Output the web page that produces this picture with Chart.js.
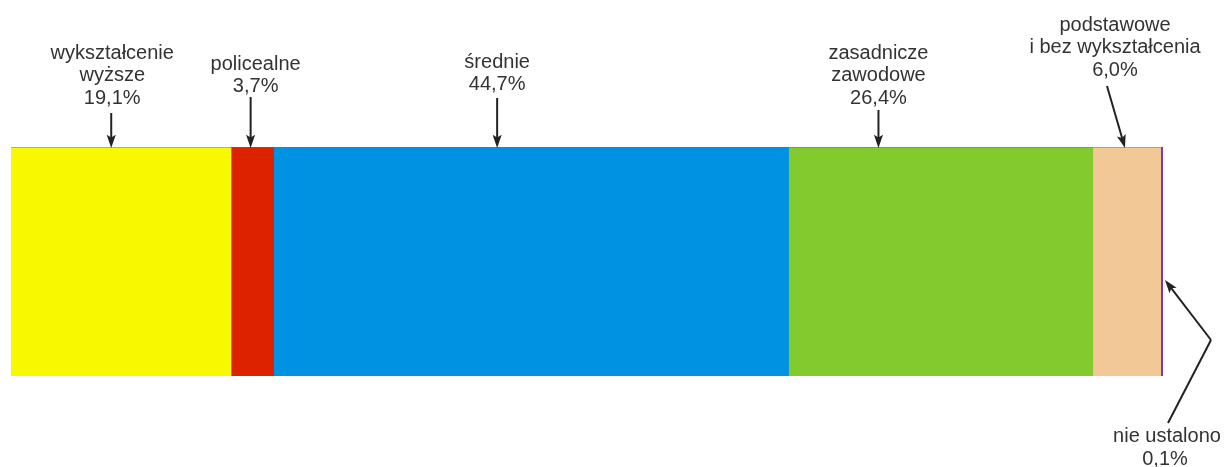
<!DOCTYPE html>
<html>
<head>
<meta charset="utf-8">
<script src="https://cdn.jsdelivr.net/npm/chart.js@4"></script>
<style>
  html, body { margin: 0; padding: 0; background: #fff; }
  #wrap { width: 1225px; height: 467px; }
</style>
</head>
<body>
<div id="wrap"><canvas id="myChart" width="1225" height="467"></canvas></div>
<script>
// data
var categories = ['wykształcenie wyższe', 'policealne', 'średnie', 'zasadnicze zawodowe', 'podstawowe i bez wykształcenia', 'nie ustalono'];
var values = [19.1, 3.7, 44.7, 26.4, 6.0, 0.1];
var colors = ['#f8f800', '#dd2200', '#0092e2', '#82ca2e', '#f2c896', '#7a3aa8'];

// label lines (text only) and where the arrow points along the axis (in %)
var labelLines = [
    ['wykształcenie', 'wyższe', '19,1%'],
    ['policealne', '3,7%'],
    ['średnie', '44,7%'],
    ['zasadnicze', 'zawodowe', '26,4%'],
    ['podstawowe', 'i bez wykształcenia', '6,0%'],
    ['nie ustalono', '0,1%']
];
var arrowAt = [8.7, 20.8, 42.2, 75.3, 96.7, 100];

var datasets = categories.map(function (c, i) {
    return {
        label: c,
        data: [values[i]],
        backgroundColor: colors[i],
        borderWidth: 0
    };
});

function drawArrow(ctx, x1, y1, x2, y2) {
    var a = Math.atan2(y2 - y1, x2 - x1);
    var len = 14, w = 0.33;
    ctx.beginPath();
    ctx.moveTo(x1, y1);
    ctx.lineTo(x2 - Math.cos(a) * 8, y2 - Math.sin(a) * 8);
    ctx.stroke();
    ctx.beginPath();
    ctx.moveTo(x2, y2);
    ctx.lineTo(x2 - len * Math.cos(a - w), y2 - len * Math.sin(a - w));
    ctx.lineTo(x2 - len * 0.75 * Math.cos(a), y2 - len * 0.75 * Math.sin(a));
    ctx.lineTo(x2 - len * Math.cos(a + w), y2 - len * Math.sin(a + w));
    ctx.closePath();
    ctx.fill();
}

var callouts = {
    id: 'callouts',
    afterDatasetsDraw: function (chart) {
        var ctx = chart.ctx;
        var xs = chart.scales.x;
        var area = chart.chartArea;
        var top = area.top, bottom = area.bottom;
        ctx.save();
        // thin line along the top of the bar
        ctx.strokeStyle = 'rgba(120,110,60,0.45)';
        ctx.lineWidth = 1;
        ctx.beginPath();
        ctx.moveTo(xs.getPixelForValue(0), top + 0.5);
        ctx.lineTo(xs.getPixelForValue(100), top + 0.5);
        ctx.stroke();
        // the purple sliver is drawn a bit wider so it shows
        ctx.strokeStyle = colors[5];
        ctx.lineWidth = 2;
        ctx.beginPath();
        ctx.moveTo(xs.getPixelForValue(100) - 1, top);
        ctx.lineTo(xs.getPixelForValue(100) - 1, bottom);
        ctx.stroke();

        ctx.fillStyle = '#333';
        ctx.strokeStyle = '#222';
        ctx.lineWidth = 2;
        ctx.font = '20px "Liberation Sans", Arial, sans-serif';
        ctx.textAlign = 'center';
        ctx.textBaseline = 'middle';
        var lh = 22.5;
        // text positions: first line y, text offset x, arrow start
        var layout = [
            { y: 53, dx: 1, ay: 113 },
            { y: 64, dx: 5, ay: 97 },
            { y: 62, dx: 0, ay: 98 },
            { y: 53, dx: 0, ay: 110 },
            { y: 25, dx: -10, ay: 86, ax: -18 }
        ];
        layout.forEach(function (l, i) {
            var x = xs.getPixelForValue(arrowAt[i]);
            labelLines[i].forEach(function (t, k) {
                ctx.fillText(t, x + l.dx, l.y + k * lh);
            });
            ctx.fillStyle = '#222';
            drawArrow(ctx, x + (l.ax || 0), l.ay, x, top + 1);
            ctx.fillStyle = '#333';
        });
        // last, tiny segment: label below, bent arrow
        var xe = xs.getPixelForValue(arrowAt[5]);
        ctx.fillText(labelLines[5][0], xe + 4, bottom + 60);
        ctx.fillText(labelLines[5][1], xe + 2, bottom + 83);
        ctx.beginPath();
        ctx.moveTo(xe + 5, bottom + 47);
        ctx.lineTo(xe + 48, bottom - 36);
        ctx.stroke();
        ctx.fillStyle = '#222';
        drawArrow(ctx, xe + 48, bottom - 36, xe + 2, top + 133);
        ctx.restore();
    }
};

var chart = new Chart(document.getElementById('myChart'), {
    type: 'bar',
    data: { labels: [''], datasets: datasets },
    options: {
        indexAxis: 'y',
        responsive: false,
        animation: false,
        layout: { padding: { left: 11, right: 62, top: 147, bottom: 91 } },
        datasets: { bar: { barPercentage: 1, categoryPercentage: 1 } },
        scales: {
            x: { stacked: true, display: false, min: 0, max: 100 },
            y: { stacked: true, display: false }
        },
        plugins: {
            legend: { display: false },
            tooltip: { enabled: false }
        }
    },
    plugins: [callouts]
});
</script>
</body>
</html>
